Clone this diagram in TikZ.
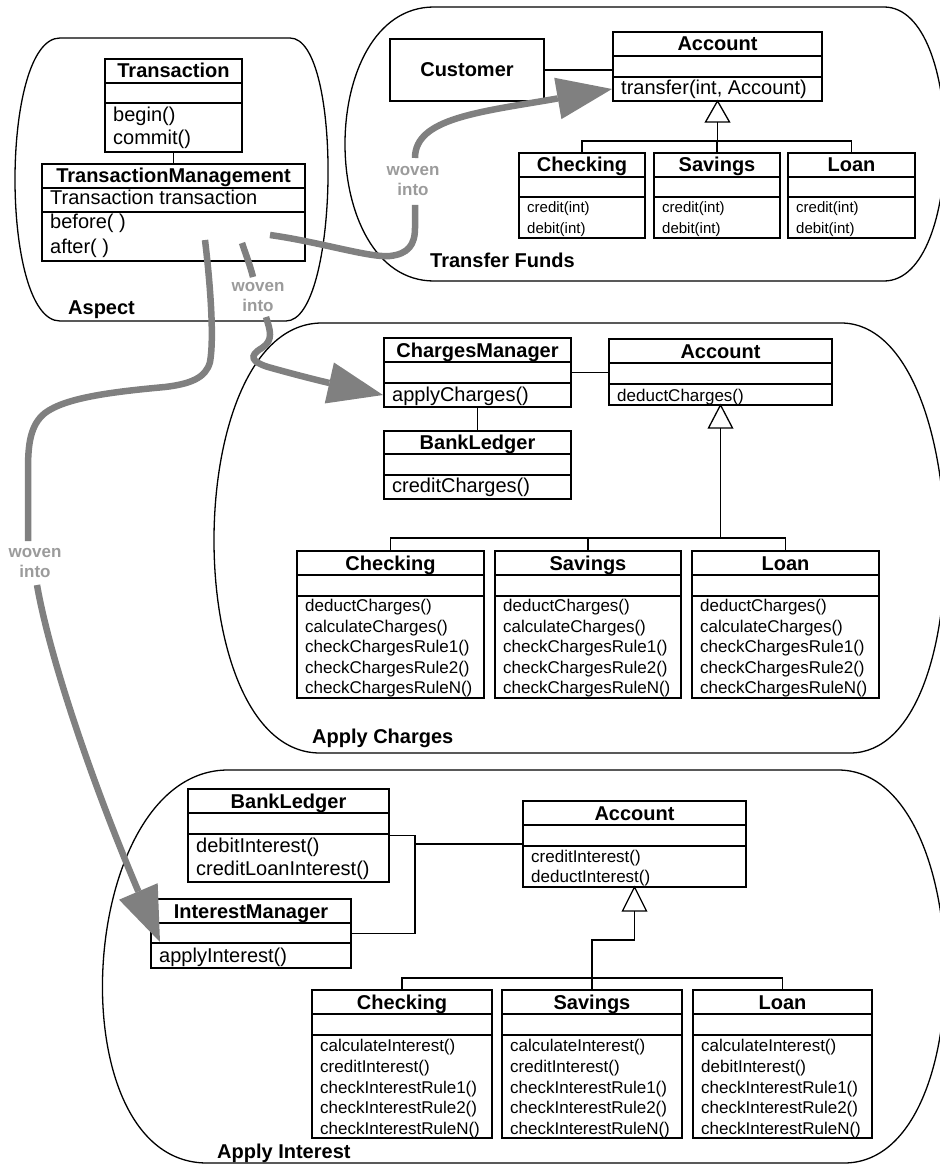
\documentclass[tikz,border=0pt]{standalone}
\usepackage{fontspec}
\setmainfont{Liberation Sans}
\usetikzlibrary{arrows.meta,calc}
\definecolor{wgray}{RGB}{128,128,128}
\definecolor{lgray}{RGB}{155,155,155}
\newcommand\fsz[2]{\fontsize{#1}{#2}\selectfont}
\newcommand\mfirst{19}
\newcommand\mstep{22}
% name, x1, y1, x2, divider1, divider2, y2, title, methods
\newcommand\umlcls[9]{%
  \node[clsbox, minimum width={(#4-(#2))*1pt}, minimum height={(#7-(#3))*1pt}] (#1) at (#2,#3) {};
  \draw[clsline] (#2,#5) -- (#4,#5) (#2,#6) -- (#4,#6);
  \node[ttl] (#1-t) at ({(#2+#4)/2},{(#3+#5)/2+7}) {#8};
  \foreach \mm [count=\ii] in {#9} {\node[meth] (#1-m\ii) at ({#2+8},{#6+\mfirst+(\ii-1)*\mstep}) {\mm};}
}
% top, TLx, TRx, bottom, BLx, BRx, left extreme, right extreme
\newcommand\blob[8]{%
  \draw[blobline] (#2,#1) -- (#3,#1)
    .. controls ({#3+(#8-(#3+#6)/2)/0.75},#1) and ({#6+(#8-(#3+#6)/2)/0.75},#4) .. (#6,#4)
    -- (#5,#4)
    .. controls ({#5-((#2+#5)/2-#7)/0.75},#4) and ({#2-((#2+#5)/2-#7)/0.75},#1) .. (#2,#1) -- cycle;
}
\begin{document}
\begin{tikzpicture}[x=1pt,y=-1pt,
  clsbox/.style={draw, line width=1.3pt, inner sep=0pt, outer sep=0pt, anchor=north west},
  clsline/.style={line width=1.3pt},
  conn/.style={line width=1.3pt},
  ttl/.style={anchor=base, inner sep=0pt, font=\fsz{20}{24}\bfseries},
  blabel/.style={anchor=base west, inner sep=0pt, font=\fsz{20}{24}\bfseries},
  blobline/.style={line width=1.3pt},
  weave/.style={draw=wgray, line width=6.5pt},
  weavetip/.style={weave, -{Triangle[length=55pt,width=42pt,line width=0pt]}},
  wlabel/.style={font=\fsz{17}{20}\bfseries, text=lgray, align=center, inner sep=0pt},
  meth/.style={anchor=base west, inner sep=0pt, font=\fsz{20}{24}},
]
\useasboundingbox (0,0) rectangle (939,1166);

% ---------- blobs ----------
\blob{38}{60}{290}{321}{60}{286}{15}{328}
\blob{7}{434}{884}{281}{434}{884}{345}{945}
\blob{323}{322}{841}{753}{320}{850}{214}{945}
\blob{770}{228}{838}{1163}{207}{844}{103}{945}

\node[blabel] (lasp) at (68,314) {Aspect};
\node[blabel] (ltf) at (430,267) {Transfer Funds};
\node[blabel] (lac) at (312,743) {Apply Charges};
\node[blabel] (lai) at (217,1158) {Apply Interest};

% ---------- Aspect ----------
\tikzset{meth/.style={anchor=base west, inner sep=0pt, font=\fsz{20}{24}}}
\renewcommand\mfirst{19}\renewcommand\mstep{22.5}
\umlcls{trans}{105}{59}{242}{83}{103}{152}{Transaction}{begin(),commit()}
\renewcommand\mfirst{17}\renewcommand\mstep{24}
\umlcls{tm}{42}{164}{305}{188}{212}{261}{TransactionManagement}{before( ),after( )}
\node[meth] (tm-a) at (50,205) {Transaction transaction};
\draw[conn] (trans.south) -- (tm.north);

% ---------- Transfer Funds ----------
\node[clsbox, minimum width=154pt, minimum height=62pt] (cust) at (390,39) {};
\node[ttl] (cust-t) at (467,77) {Customer};
\renewcommand\mfirst{18}\renewcommand\mstep{22}
\umlcls{tacc}{613}{32}{822}{56}{77}{101}{Account}{{transfer(int, Account)}}
\tikzset{meth/.style={anchor=base west, inner sep=0pt, font=\fsz{15}{18}}}
\renewcommand\mfirst{15.5}\renewcommand\mstep{21}
\umlcls{tchk}{519}{153}{645}{177}{197}{238}{Checking}{credit(int),debit(int)}
\umlcls{tsav}{654}{153}{780}{177}{197}{238}{Savings}{credit(int),debit(int)}
\umlcls{tloan}{788}{153}{915}{177}{197}{238}{Loan}{credit(int),debit(int)}
\draw[conn] (cust.east) -- (cust.east -| tacc.west);
\coordinate (tbus) at (0,141);
\draw[conn, fill=white] (tacc.south) -- ++(-12,21) -- ++(24,0) -- cycle;
\draw[conn] ($(tacc.south)+(0,21)$) -- (tacc.south |- tbus);
\draw[conn] (tchk.north) |- (tloan.north |- tbus) -- (tloan.north);
\draw[conn] (tsav.north) -- (tsav.north |- tbus);

% ---------- Apply Charges ----------
\tikzset{meth/.style={anchor=base west, inner sep=0pt, font=\fsz{20}{24}}}
\renewcommand\mfirst{18.5}\renewcommand\mstep{22}
\umlcls{cm}{384}{338}{571}{362}{383}{407}{ChargesManager}{applyCharges()}
\renewcommand\mfirst{17.5}
\umlcls{cbl}{384}{431}{571}{454}{475}{499}{BankLedger}{creditCharges()}
\tikzset{meth/.style={anchor=base west, inner sep=0pt, font=\fsz{17}{20}}}
\renewcommand\mfirst{17.5}
\umlcls{cacc}{609}{339}{832}{363}{384}{405}{Account}{deductCharges()}
\renewcommand\mfirst{15.5}\renewcommand\mstep{20.5}
\umlcls{cchk}{297}{551}{484}{575}{596}{698}{Checking}{deductCharges(),calculateCharges(),checkChargesRule1(),checkChargesRule2(),checkChargesRuleN()}
\umlcls{csav}{495}{551}{681}{575}{596}{698}{Savings}{deductCharges(),calculateCharges(),checkChargesRule1(),checkChargesRule2(),checkChargesRuleN()}
\umlcls{cloan}{692}{551}{879}{575}{596}{698}{Loan}{deductCharges(),calculateCharges(),checkChargesRule1(),checkChargesRule2(),checkChargesRuleN()}
\draw[conn] (cm.east) -- (cm.east -| cacc.west);
\draw[conn] (cm.south) -- (cbl.north);
\coordinate (cbus) at (0,538);
\draw[conn, fill=white] (cacc.south) -- ++(-12,23) -- ++(24,0) -- cycle;
\draw[conn] ($(cacc.south)+(0,23)$) -- (cacc.south |- cbus);
\draw[conn] (cchk.north) |- (cloan.north |- cbus) -- (cloan.north);
\draw[conn] (csav.north) -- (csav.north |- cbus);

% ---------- Apply Interest ----------
\tikzset{meth/.style={anchor=base west, inner sep=0pt, font=\fsz{20}{24}}}
\renewcommand\mfirst{18.5}\renewcommand\mstep{23}
\umlcls{ibl}{188}{789}{389}{813}{834}{882}{BankLedger}{debitInterest(),creditLoanInterest()}
\renewcommand\mfirst{19.5}
\umlcls{im}{151}{899}{351}{923}{943}{968}{InterestManager}{applyInterest()}
\tikzset{meth/.style={anchor=base west, inner sep=0pt, font=\fsz{17}{20}}}
\renewcommand\mfirst{16.5}\renewcommand\mstep{20}
\umlcls{iacc}{523}{801}{746}{825}{846}{887}{Account}{creditInterest(),deductInterest()}
\renewcommand\mfirst{16.5}\renewcommand\mstep{20.75}
\umlcls{ichk}{312}{990}{492}{1014}{1035}{1138}{Checking}{calculateInterest(),creditInterest(),checkInterestRule1(),checkInterestRule2(),checkInterestRuleN()}
\umlcls{isav}{502}{990}{682}{1014}{1035}{1138}{Savings}{calculateInterest(),creditInterest(),checkInterestRule1(),checkInterestRule2(),checkInterestRuleN()}
\umlcls{iloan}{693}{990}{872}{1014}{1035}{1138}{Loan}{calculateInterest(),debitInterest(),checkInterestRule1(),checkInterestRule2(),checkInterestRuleN()}
\coordinate (ij) at (415,844);
\draw[conn] (ibl.east) -| (ij) |- (im.east);
\draw[conn] (iacc.west) -- (ij);
\coordinate (ibus) at (0,978);
\draw[conn, fill=white] (iacc.south) -- ++(-12,24) -- ++(24,0) -- cycle;
\draw[conn] ($(iacc.south)+(0,24)$) -- ++(0,29) -| (isav.north);
\draw[conn] (ichk.north) |- (iloan.north |- ibus) -- (iloan.north);

% ---------- woven into arrows ----------
\coordinate (w1s) at (270,235);
\coordinate (w2s) at (242,243);
\coordinate (w3s) at (205,240);
\coordinate (w1t) at ($(tacc.south west)+(-1,-12)$);
\coordinate (w2t) at ($(cm.south west)+(-1,-12)$);
\coordinate (w3t) at ($(im.west)+(9,8.5)$);

\draw[weave] (w1s) .. controls (320,242) and (370,258) .. (390,256)
  .. controls (408,254) and (415,245) .. (415,228) -- (415,205);
\node[wlabel] (wl1) at (413,181) {woven\\into};
\draw[weavetip] (415,158) .. controls (415,118) and (480,112) .. (w1t);

\draw[weave] (w2s) .. controls (246,255) and (250,265) .. (253,277);
\node[wlabel] (wl2) at (258,297) {woven\\into};
\draw[weavetip] (266,317) .. controls (270,330) and (274,340) .. (262,348)
  .. controls (248,356) and (252,362) .. (268,367)
  .. controls (300,376) and (325,382) .. (w2t);

\draw[weave] (w3s) .. controls (211,290) and (214,340) .. (210,362)
  .. controls (206,378) and (190,384) .. (165,387)
  .. controls (110,392) and (65,398) .. (45,413)
  .. controls (30,425) and (28,445) .. (28,470) -- (28,541);
\node[wlabel] (wl3) at (35,563) {woven\\into};
\draw[weavetip] (37,585) .. controls (50,660) and (95,790) .. (w3t);

\end{tikzpicture}
\end{document}
